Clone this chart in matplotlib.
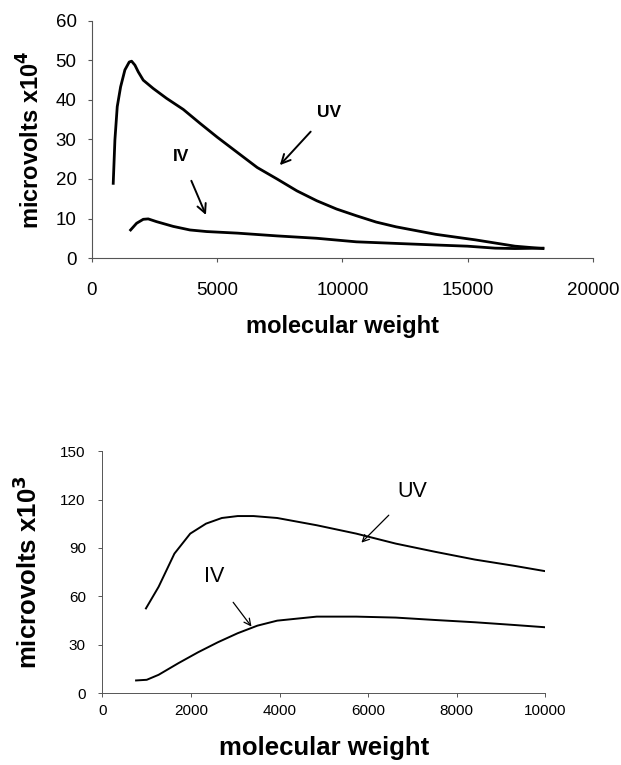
import matplotlib.pyplot as plt

plt.rcParams['font.family'] = ['Liberation Sans', 'DejaVu Sans']

# top panel: microvolts x10^4 vs molecular weight
top_uv_mw = [851, 918, 1011, 1145, 1317, 1490, 1585, 1717, 1850, 2049, 2447, 2980,
             3646, 4311, 4997, 5807, 6598, 7389, 8180, 8972, 9763, 10554, 11345,
             12136, 13718, 15301, 16883, 18000]
top_uv_mv = [18.9, 29.9, 38.3, 43.3, 47.6, 49.6, 49.8, 48.8, 47.1, 45.0, 42.9, 40.4,
             37.6, 34.1, 30.6, 26.7, 22.9, 20.0, 17.0, 14.5, 12.4, 10.7, 9.1,
             7.9, 6.0, 4.6, 3.0, 2.4]
top_iv_mw = [1544, 1784, 2049, 2248, 2582, 3247, 3912, 4578, 5807, 7389, 8972, 10554,
             12136, 13718, 14984, 16092, 16883, 18000]
top_iv_mv = [7.1, 8.8, 9.8, 9.9, 9.2, 8.0, 7.1, 6.7, 6.3, 5.6, 5.0, 4.1,
             3.7, 3.3, 3.0, 2.5, 2.4, 2.5]

# bottom panel: microvolts x10^3 vs molecular weight
bot_uv_mw = [982, 1268, 1625, 1982, 2339, 2696, 3054, 3411, 3946, 4839, 5732, 6625,
             7518, 8411, 9304, 10000]
bot_uv_mv = [52.5, 65.9, 86.5, 98.9, 105.1, 108.6, 109.8, 109.8, 108.6, 104.1, 98.9,
             92.7, 87.6, 82.8, 78.9, 75.6]
bot_iv_mw = [759, 1000, 1268, 1714, 2161, 2607, 3054, 3500, 3946, 4839, 5732, 6625,
             7518, 8411, 9304, 10000]
bot_iv_mv = [7.8, 8.2, 11.3, 18.5, 25.3, 31.5, 37.1, 41.8, 44.9, 47.4, 47.4, 46.8,
             45.3, 43.9, 42.2, 40.8]

spine_col = '#555555'

fig = plt.figure(figsize=(6.21, 7.65), dpi=100)

# top chart
ax1 = fig.add_axes([0.148, 0.6627, 0.807, 0.310])
ax1.plot(top_uv_mw, top_uv_mv, color='black', lw=2.0, solid_joinstyle='round')
ax1.plot(top_iv_mw, top_iv_mv, color='black', lw=2.0, solid_joinstyle='round')
ax1.set_xlim(0, 20000)
ax1.set_ylim(0, 60)
ax1.set_xticks([0, 5000, 10000, 15000, 20000])
ax1.set_yticks([0, 10, 20, 30, 40, 50, 60])
ax1.tick_params(labelsize=13.5, length=3, width=0.8, color=spine_col)
ax1.tick_params(axis='x', pad=14)
ax1.tick_params(axis='y', pad=8)
for side in ['left', 'bottom']:
    ax1.spines[side].set_color(spine_col)
    ax1.spines[side].set_linewidth(0.8)
ax1.spines[['top', 'right']].set_visible(False)
ax1.set_xlabel('molecular weight', fontsize=17, fontweight='bold', labelpad=12)
ax1.set_ylabel('microvolts x10$^\\mathbf{4}$', fontsize=17, fontweight='bold', labelpad=8)
ax1.annotate('UV', xy=(7500, 23.5), xytext=(9446, 36.9), ha='center', va='center',
             fontsize=12.5, fontweight='bold',
             arrowprops=dict(arrowstyle='->', color='black', lw=1.4,
                             shrinkA=9, shrinkB=0, mutation_scale=16))
ax1.annotate('IV', xy=(4551, 10.9), xytext=(3553, 25.7), ha='center', va='center',
             fontsize=12.5, fontweight='bold',
             arrowprops=dict(arrowstyle='->', color='black', lw=1.4,
                             shrinkA=11, shrinkB=0, mutation_scale=16))

# bottom chart
ax2 = fig.add_axes([0.165, 0.0941, 0.713, 0.316])
ax2.plot(bot_uv_mw, bot_uv_mv, color='black', lw=1.4, solid_joinstyle='round')
ax2.plot(bot_iv_mw, bot_iv_mv, color='black', lw=1.4, solid_joinstyle='round')
ax2.set_xlim(0, 10000)
ax2.set_ylim(0, 150)
ax2.set_xticks([0, 2000, 4000, 6000, 8000, 10000])
ax2.set_yticks([0, 30, 60, 90, 120, 150])
ax2.tick_params(labelsize=11, length=3, width=0.7, color=spine_col)
ax2.tick_params(axis='x', pad=5)
ax2.tick_params(axis='y', pad=9)
for side in ['left', 'bottom']:
    ax2.spines[side].set_color(spine_col)
    ax2.spines[side].set_linewidth(0.7)
ax2.spines[['top', 'right']].set_visible(False)
ax2.set_xlabel('molecular weight', fontsize=18.5, fontweight='bold', labelpad=13)
ax2.set_ylabel('microvolts x10$^\\mathbf{3}$', fontsize=18.5, fontweight='bold', labelpad=13)
ax2.annotate('UV', xy=(5848, 93.3), xytext=(7009, 125.3), ha='center', va='center',
             fontsize=15.5,
             arrowprops=dict(arrowstyle='->', color='black', lw=0.9,
                             shrinkA=11, shrinkB=0, mutation_scale=12))
ax2.annotate('IV', xy=(3366, 41.2), xytext=(2518, 72.1), ha='center', va='center',
             fontsize=15.5,
             arrowprops=dict(arrowstyle='->', color='black', lw=0.9,
                             shrinkA=11, shrinkB=0, mutation_scale=12))

fig.savefig('out.png', dpi=100)
